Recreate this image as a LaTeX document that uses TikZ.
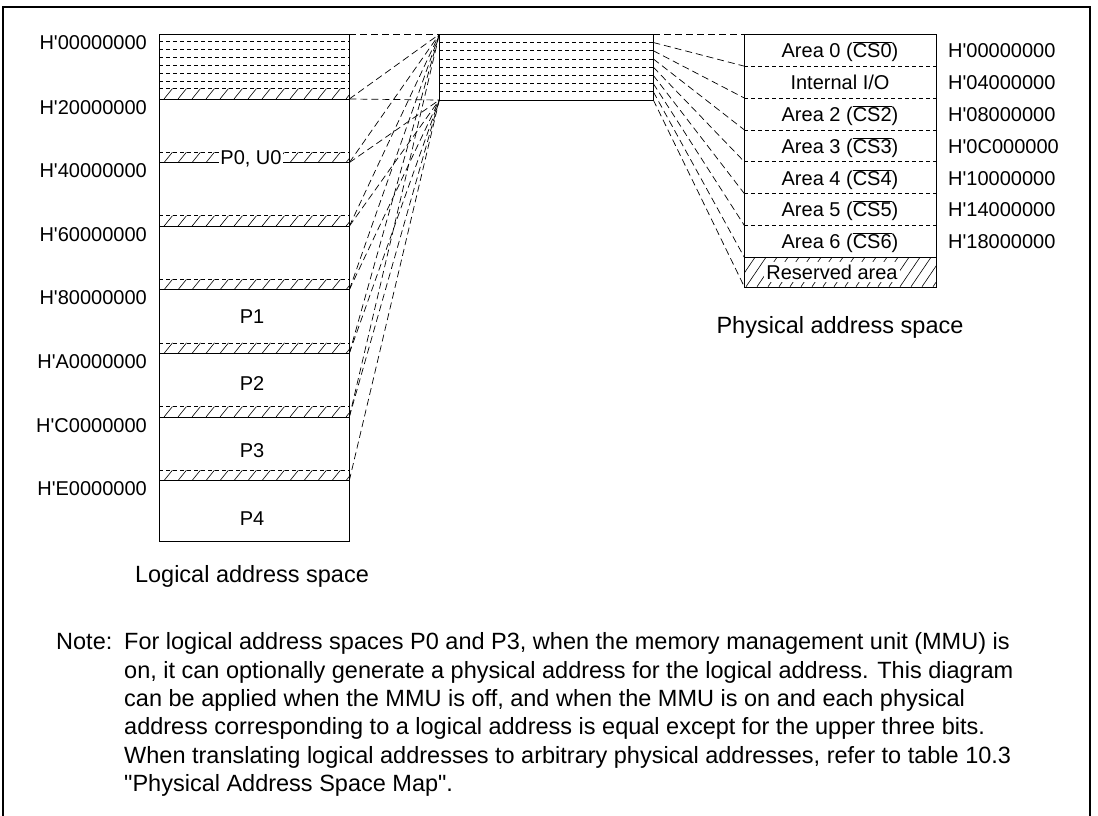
\documentclass[tikz,border=0pt]{standalone}
\usepackage{fontspec}
\setmainfont{Liberation Sans}[Ligatures=TeXOff]
\begin{document}
\begin{tikzpicture}[x=1pt,y=-1pt,
  font=\fontsize{20}{24}\selectfont,
  boxline/.style={line width=0.9pt},
  conn/.style={dash pattern=on 7pt off 4pt, line width=0.7pt},
  innerdash/.style={dash pattern=on 4pt off 3pt, line width=0.7pt},
  hatchln/.style={line width=0.6pt},
  txt/.style={inner sep=0pt},
  big/.style={inner sep=0pt, font=\fontsize{23.5}{28.4}\selectfont}]
\useasboundingbox (0,0) rectangle (1098,816);
\draw[line width=1.2pt] (3,816) -- (3,7) -- (1090,7) -- (1090,816);

% ---------- logical address space ----------
\node[draw, boxline, minimum width=190.3pt, minimum height=506.7pt, anchor=north west, inner sep=0pt] (log) at (159,34.3) {};
\foreach \y in {41,49.2,57.4,65.6,73.8,81.6}
  \draw[innerdash] (159,\y) -- (349.3,\y);
\foreach \b [count=\i] in {99,162.6,226.2,289.8,353.4,417,480.6} {
  \coordinate (lb\i) at (349.3,\b);
  \begin{scope}
    \clip (159,{\b-10.5}) rectangle (349.3,\b);
    \foreach \x in {150,164,...,360}
      \draw[hatchln] (\x,\b) -- ({\x+8.5},{\b-10.5});
  \end{scope}
  \draw[innerdash] (159,{\b-10.5}) -- (349.3,{\b-10.5});
  \draw[boxline] (159,\b) -- (349.3,\b);
}
\node[txt, fill=white, inner xsep=1.5pt, inner ysep=1pt, anchor=base] (p0) at (251,164.6) {P0, U0};
\node[txt, anchor=base] (p1) at (252,323.5) {P1};
\node[txt, anchor=base] (p2) at (252,390.5) {P2};
\node[txt, anchor=base] (p3) at (252,457) {P3};
\node[txt, anchor=base] (p4) at (252,525.5) {P4};

\foreach \b/\t [count=\i] in {34.3/00000000,99/20000000,162.6/40000000,226.2/60000000,289.8/80000000,353.4/A0000000,417/C0000000,480.6/E0000000}
  \node[txt, anchor=base east] (la\i) at (147,{\b+15}) {H'\t};

\node[big, anchor=base] (logcap) at (252,582) {Logical address space};

% ---------- middle box ----------
\node[draw, boxline, minimum width=214pt, minimum height=65.7pt, anchor=north west, inner sep=0pt] (mid) at (439.3,34.3) {};
\foreach \k in {1,...,7}
  \draw[innerdash] (439.3,{34.3+8.21*\k}) -- (653.3,{34.3+8.21*\k});
\coordinate (lt) at (349.3,34.3);
\coordinate (mtl) at (439.3,34.3);
\coordinate (mbl) at (439.3,100);
\draw[conn] (lt) -- (mtl);
\draw[conn] (lb1) -- (mbl);
\foreach \i in {1,...,6} \draw[conn] (lb\i) -- (mtl);
\foreach \i in {2,...,7} \draw[conn] (lb\i) -- (mbl);

% ---------- physical address space ----------
\node[draw, boxline, minimum width=191.7pt, minimum height=252.4pt, anchor=north west, inner sep=0pt] (phys) at (744.3,34.3) {};
\foreach \k in {1,...,6}
  \draw[innerdash] (744.3,{34.3+31.85*\k}) -- (936,{34.3+31.85*\k});
\draw[boxline] (744.3,257.25) -- (936,257.25);
\begin{scope}
  \clip (744.3,257.25) rectangle (936,286.7);
  \foreach \x in {735,746,...,950}
    \draw[hatchln] (\x,286.7) -- ({\x+20},257.25);
\end{scope}
\node[txt, fill=white, inner xsep=2pt, inner ysep=3pt] (resv) at (832,272) {Reserved area};

\foreach \k in {0,...,8} {
  \pgfmathsetmacro{\yy}{ifthenelse(\k==8,286.7,34.3+31.85*\k)}
  \coordinate (mr\k) at (653.3,{34.3+8.21*\k});
  \coordinate (pl\k) at (744.3,\yy);
  \draw[conn] (mr\k) -- (pl\k);
}

\foreach \t/\h [count=\i from 0] in {{Area 0 (\(\overline{\mbox{CS0}}\))}/00000000,{Internal I/O}/04000000,{Area 2 (\(\overline{\mbox{CS2}}\))}/08000000,{Area 3 (\(\overline{\mbox{CS3}}\))}/0C000000,{Area 4 (\(\overline{\mbox{CS4}}\))}/10000000,{Area 5 (\(\overline{\mbox{CS5}}\))}/14000000,{Area 6 (\(\overline{\mbox{CS6}}\))}/18000000} {
  \node[txt, anchor=base] (ar\i) at (840,{34.3+31.85*\i+15.9+7.5}) {\t};
  \node[txt, anchor=base west] (ha\i) at (948,{34.3+31.85*\i+15.9+7.5}) {H'\h};
}
\node[big, anchor=base] (physcap) at (840,333) {Physical address space};

% ---------- note ----------
\node[big, anchor=base west] (notelbl) at (56,649.5) {Note:};
\node[big, anchor=base west] (n1) at (124,649.5) {For logical address spaces P0 and P3, when the memory management unit (MMU) is};
\node[big, anchor=base west] (n2) at (124,678) {on, it can optionally generate a physical address for the logical address. This diagram};
\node[big, anchor=base west] (n3) at (124,706.3) {can be applied when the MMU is off, and when the MMU is on and each physical};
\node[big, anchor=base west] (n4) at (124,734.7) {address corresponding to a logical address is equal except for the upper three bits.};
\node[big, anchor=base west] (n5) at (124,763) {When translating logical addresses to arbitrary physical addresses, refer to table 10.3};
\node[big, anchor=base west] (n6) at (124,791.4) {"Physical Address Space Map".};
\end{tikzpicture}
\end{document}
